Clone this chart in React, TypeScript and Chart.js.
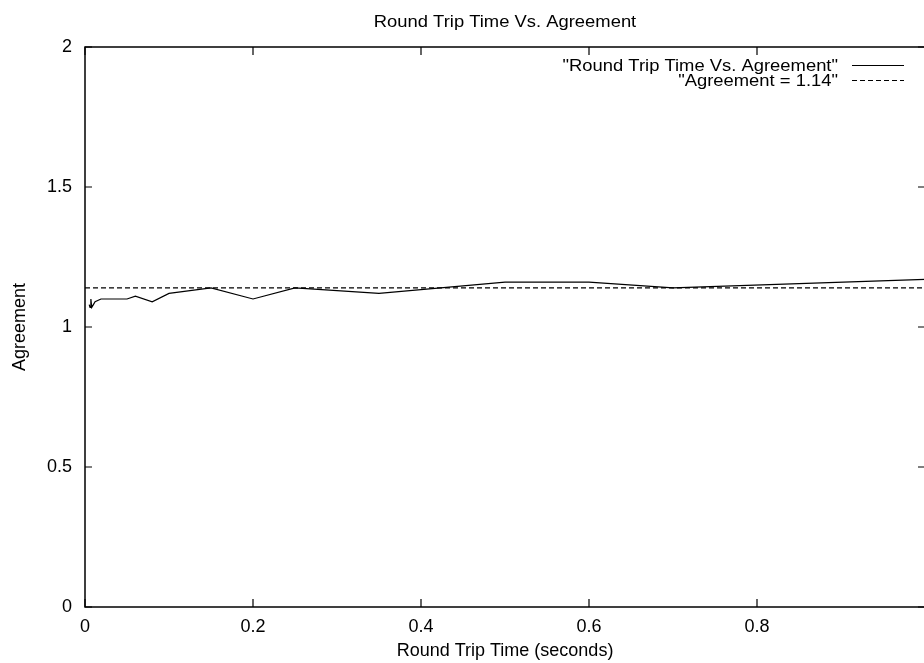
import React, { useEffect, useRef } from "react";
import { Chart, registerables } from "chart.js";

Chart.register(...registerables);

const rttSeconds = [0.005, 0.006, 0.007, 0.008, 0.010, 0.012, 0.019, 0.05, 0.06, 0.08, 0.10, 0.15, 0.20, 0.25, 0.35, 0.50, 0.60, 0.70, 1.00];
const agreementValues = [1.08, 1.07, 1.10, 1.07, 1.08, 1.09, 1.10, 1.10, 1.11, 1.09, 1.12, 1.14, 1.10, 1.14, 1.12, 1.16, 1.16, 1.14, 1.17];
const agreementConstant = 1.14;
const constantX = [0, 1];
const xTicks = [0, 0.2, 0.4, 0.6, 0.8, 1];
const yTicks = [0, 0.5, 1, 1.5, 2];
const seriesLabels = ['"Round Trip Time Vs. Agreement"', '"Agreement = 1.14"'];
const chartTitle = "Round Trip Time Vs. Agreement";
const xTitle = "Round Trip Time (seconds)";
const yTitle = "Agreement";

const FONT = "'Liberation Sans', Arial, Helvetica, sans-serif";

function stretchedText(ctx: any, text: string, x: number, y: number, align: string) {
  const sx = 1.13;
  ctx.save();
  ctx.font = `16.3px ${FONT}`;
  ctx.textAlign = align;
  ctx.textBaseline = "middle";
  ctx.translate(x, y);
  ctx.scale(sx, 1);
  ctx.fillText(text, 0, 0);
  ctx.restore();
}

const framePlugin = {
  id: "gnuplotFrame",
  afterDatasetsDraw(chart: any) {
    const ctx = chart.ctx;
    const { left, right, top, bottom } = chart.chartArea;
    const xs = chart.scales.x;
    const ys = chart.scales.y;
    ctx.save();
    ctx.strokeStyle = "#000";
    ctx.fillStyle = "#000";
    ctx.lineWidth = 1.5;
    ctx.strokeRect(left, top, right - left, bottom - top);
    ctx.lineWidth = 1.2;
    ctx.beginPath();
    for (const v of xTicks) {
      const px = xs.getPixelForValue(v);
      ctx.moveTo(px, bottom);
      ctx.lineTo(px, bottom - 8);
      ctx.moveTo(px, top);
      ctx.lineTo(px, top + 8);
    }
    for (const v of yTicks) {
      const py = ys.getPixelForValue(v);
      ctx.moveTo(left, py);
      ctx.lineTo(left + 7, py);
      ctx.moveTo(right, py);
      ctx.lineTo(right - 7, py);
    }
    ctx.stroke();

    // title
    stretchedText(ctx, chartTitle, (left + right) / 2, 22.5, "center");

    // legend
    const rows = [65, 80];
    const dashes = [[], [5, 3]];
    rows.forEach((ry, i) => {
      stretchedText(ctx, seriesLabels[i], 838, ry + 1.5, "right");
      ctx.setLineDash(dashes[i]);
      ctx.lineWidth = 1.2;
      ctx.beginPath();
      ctx.moveTo(852, ry + 0.5);
      ctx.lineTo(904, ry + 0.5);
      ctx.stroke();
    });
    ctx.restore();
  },
};

export default function App() {
  const ref = useRef<HTMLCanvasElement | null>(null);
  useEffect(() => {
    document.body.style.margin = "0";
    document.body.style.overflow = "hidden";
    const canvas = ref.current!;
    const chart = new Chart(canvas, {
      type: "line",
      data: {
        datasets: [
          {
            label: seriesLabels[0],
            data: rttSeconds.map((x, i) => ({ x, y: agreementValues[i] })),
            borderColor: "#000",
            borderWidth: 1.2,
            pointRadius: 0,
            tension: 0,
            fill: false,
          },
          {
            label: seriesLabels[1],
            data: constantX.map((x) => ({ x, y: agreementConstant })),
            borderColor: "#000",
            borderWidth: 1.2,
            borderDash: [5, 3],
            pointRadius: 0,
            fill: false,
          },
        ],
      },
      options: {
        animation: false,
        responsive: false,
        devicePixelRatio: 1,
        layout: { padding: { left: 0, top: 47, right: 15, bottom: 0 } },
        plugins: { legend: { display: false }, title: { display: false }, tooltip: { enabled: false } },
        scales: {
          x: {
            type: "linear",
            min: 0,
            max: 1,
            afterFit: (s: any) => { s.height = 56; },
            afterBuildTicks: (s: any) => { s.ticks = xTicks.map((v) => ({ value: v })); },
            grid: { display: false, drawTicks: false },
            border: { display: false },
            ticks: {
              padding: 9,
              color: "#000",
              font: { family: FONT, size: 18 },
              maxRotation: 0,
              autoSkip: false,
              callback: (v: any) => (Number(v) >= 1 ? "" : String(Math.round(Number(v) * 10) / 10)),
            },
            title: { display: true, text: xTitle, color: "#000", font: { family: FONT, size: 18 }, padding: { top: 0, bottom: 1 } },
          },
          y: {
            type: "linear",
            min: 0,
            max: 2,
            afterFit: (s: any) => { s.width = 85; },
            afterBuildTicks: (s: any) => { s.ticks = yTicks.map((v) => ({ value: v })); },
            grid: { display: false, drawTicks: false },
            border: { display: false },
            ticks: {
              padding: 13,
              color: "#000",
              font: { family: FONT, size: 18 },
              autoSkip: false,
              callback: (v: any) => String(Number(v)),
            },
            title: { display: true, text: yTitle, color: "#000", font: { family: FONT, size: 18 }, padding: { top: 9, bottom: 0 } },
          },
        },
      },
      plugins: [framePlugin],
    });
    return () => chart.destroy();
  }, []);
  return (
    <div style={{ width: 924, height: 663, overflow: "hidden", background: "#fff" }}>
      <canvas ref={ref} width={940} height={663} style={{ display: "block", width: 940, height: 663 }} />
    </div>
  );
}
